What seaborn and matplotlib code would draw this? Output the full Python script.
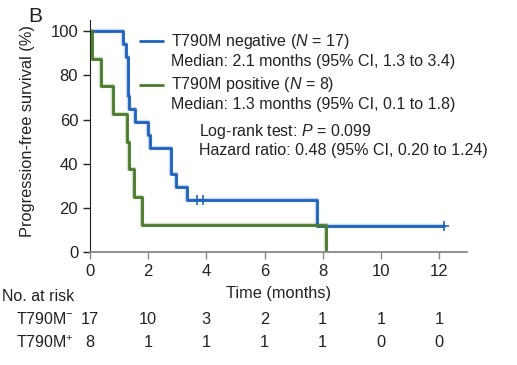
import numpy as np
import pandas as pd
import matplotlib
matplotlib.use("Agg")
import matplotlib.pyplot as plt
import matplotlib.transforms as mtransforms
import matplotlib.patheffects as pe
import seaborn as sns


# DATA

neg_time = [0, 1.15, 1.23, 1.30, 1.34, 1.55, 2.00, 2.06, 2.78, 2.96, 3.34, 7.81, 12.17]
neg_surv = [100, 94.1, 88.2, 70.6, 64.7, 58.8, 52.9, 47.1, 35.3, 29.4, 23.5, 11.8, 11.8]
neg_cens_time = [3.67, 3.87, 12.17]
neg_cens_surv = [23.5, 23.5, 11.8]

pos_time = [0, 0.06, 0.38, 0.80, 1.28, 1.35, 1.52, 1.80, 8.13]
pos_surv = [100, 87.5, 75.0, 62.5, 50.0, 37.5, 25.0, 12.5, 0]

risk_times = [0, 2, 4, 6, 8, 10, 12]
risk_neg = [17, 10, 3, 2, 1, 1, 1]
risk_pos = [8, 1, 1, 1, 1, 0, 0]

BLUE = "#1f63bd"
GREEN = "#4a7b2c"

km = pd.concat([
    pd.DataFrame({"time": neg_time, "surv": neg_surv, "group": "neg"}),
    pd.DataFrame({"time": pos_time, "surv": pos_surv, "group": "pos"}),
])
cens = pd.DataFrame({"time": neg_cens_time, "surv": neg_cens_surv})


# PLOT

sns.set_style("ticks")
plt.rcParams["font.family"] = ["Liberation Sans", "DejaVu Sans"]
plt.rcParams["mathtext.fontset"] = "custom"
plt.rcParams["mathtext.rm"] = "Liberation Sans"
plt.rcParams["mathtext.it"] = "Liberation Sans:italic"

W, H = 517, 365
fig = plt.figure(figsize=(W / 100, H / 100), dpi=100)
ax = fig.add_axes([90 / W, 1 - 252.3 / H, (466.7 - 90) / W, (252.3 - 20) / H])

sns.lineplot(data=km, x="time", y="surv", hue="group", palette={"neg": BLUE, "pos": GREEN},
             drawstyle="steps-post", estimator=None, sort=False, lw=2, legend=False, ax=ax)
for ln in ax.lines:
    ln.set_path_effects([pe.Stroke(linewidth=3.2, foreground=ln.get_color(), alpha=0.25), pe.Normal()])
sns.scatterplot(data=cens, x="time", y="surv", marker="+", color=BLUE, s=50,
                linewidth=1.2, legend=False, ax=ax, zorder=5)

ax.set_xlim(0, 12.95)
ax.set_ylim(0, 105)
ax.set_xticks(risk_times)
ax.set_yticks([0, 20, 40, 60, 80, 100])
ax.tick_params(labelsize=12, length=5, width=1)
ax.tick_params(axis="x", colors="#888888", labelcolor="#222222")
ax.tick_params(axis="y", colors="#222222", labelcolor="#222222")
for s in ["top", "right"]:
    ax.spines[s].set_visible(False)
ax.spines["bottom"].set_color("#888888")
ax.spines["bottom"].set_linewidth(1.3)
ax.spines["left"].set_color("#222222")
ax.set_xlabel("")
ax.set_ylabel("Progression-free survival (%)", fontsize=11.8, color="#222222")
ax.yaxis.set_label_coords(-0.146, 0.522)

# legend-like annotation
def fx(px):
    return px / W

def fy(py):
    return 1 - py / H

for y, c in [(41, BLUE), (84.5, GREEN)]:
    fig.add_artist(plt.Line2D([fx(139.5), fx(162.5)], [fy(y), fy(y)], color=c, lw=2))

txt = dict(fontsize=11.5, va="center", ha="left", color="#222222")
fig.text(fx(171), fy(41.7), "T790M negative ($N$ = 17)", **txt)
fig.text(fx(171), fy(61.7), "Median: 2.1 months (95% CI, 1.3 to 3.4)", **txt)
fig.text(fx(171), fy(85), "T790M positive ($N$ = 8)", **txt)
fig.text(fx(171), fy(104), "Median: 1.3 months (95% CI, 0.1 to 1.8)", **txt)
fig.text(fx(199), fy(131.7), "Log-rank test: $P$ = 0.099", **txt)
fig.text(fx(199), fy(151), "Hazard ratio: 0.48 (95% CI, 0.20 to 1.24)", **txt)

fig.text(fx(35), fy(16.5), "B", fontsize=15, ha="center", va="center", color="#222222")

# number at risk table
fig.text(fx(278.3), fy(293.5), "Time (months)", fontsize=11.8, ha="center", va="center", color="#222222")
fig.text(fx(2), fy(296.5), "No. at risk", **txt)
fig.text(fx(16), fy(319.5), "T790M$^{-}$", **txt)
fig.text(fx(16), fy(342.5), "T790M$^{+}$", **txt)
trans = mtransforms.blended_transform_factory(ax.transData, fig.transFigure)
for t, n1, n2 in zip(risk_times, risk_neg, risk_pos):
    ax.text(t, fy(319.5), str(n1), transform=trans, fontsize=11.8, ha="center", va="center", color="#222222")
    ax.text(t, fy(342.5), str(n2), transform=trans, fontsize=11.8, ha="center", va="center", color="#222222")

fig.savefig("out.png", dpi=100)
plt.close()
